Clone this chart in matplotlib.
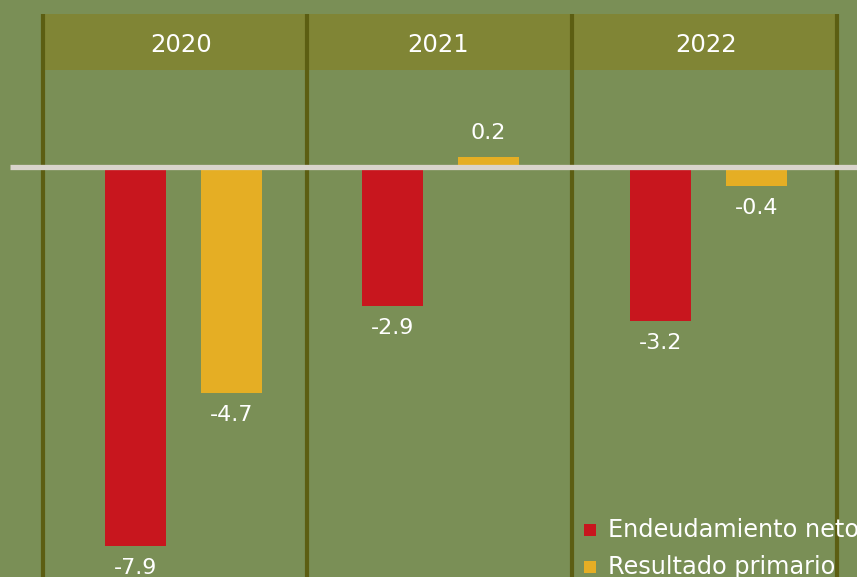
import matplotlib.pyplot as plt
from matplotlib.patches import Rectangle

years = ['2020', '2021', '2022']
endeudamiento = [-7.9, -2.9, -3.2]
resultado = [-4.7, 0.2, -0.4]
series_names = ['Endeudamiento neto', 'Resultado primario']
colors = ['#c8161e', '#e5ae24']

W, H = 857, 577
zero_px = 167      # pixel row of the zero line
px_per_unit = 48.0

bg = '#7a8f56'
band = '#808535'
divider = '#5c5e12'

fig = plt.figure(figsize=(W / 100, H / 100), dpi=100, facecolor=bg)
ax = fig.add_axes([0, 0, 1, 1])
ax.set_facecolor(bg)
ax.set_xlim(0, W)
ax.set_ylim(-(H - zero_px) / px_per_unit, zero_px / px_per_unit)
ax.axis('off')

def yfrac(p):
    return 1 - p / H

# header band and column dividers
ax.add_patch(Rectangle((42, yfrac(70)), 796, 56 / H, transform=ax.get_xaxis_transform(),
                       facecolor=band, edgecolor='none', zorder=1))
for xd in [43, 307, 572, 837]:
    ax.plot([xd, xd], [yfrac(14), 0], transform=ax.get_xaxis_transform(),
            color=divider, lw=3, zorder=2, solid_capstyle='butt')

centers = [183.5, 440.5, 708.5]
off = 48
bw = 61
for i, yr in enumerate(years):
    ax.text(centers[i] - 2, yfrac(45), yr, transform=ax.get_xaxis_transform(),
            ha='center', va='center', color='white', fontsize=17.5)

for k, vals in enumerate([endeudamiento, resultado]):
    xs = [c + (off if k else -off) for c in centers]
    bars = ax.bar(xs, vals, width=bw, color=colors[k], zorder=3)
    for x, v in zip(xs, vals):
        dy = 24 if v > 0 else -22
        ax.annotate(f'{v:.1f}', (x, v), xytext=(0, dy * 0.72), textcoords='offset points',
                    ha='center', va='center', color='white', fontsize=16)

# zero line
ax.plot([10, W], [0, 0], color='#d9d4cc', lw=3.8, zorder=4, solid_capstyle='butt')

# legend
for k, name in enumerate(series_names):
    yc = 530 + 37 * k
    ax.add_patch(Rectangle((584, yfrac(yc + 6)), 12, 12 / H, transform=ax.get_xaxis_transform(),
                           facecolor=colors[k], edgecolor='none', zorder=5))
    ax.text(608, yfrac(yc), name, transform=ax.get_xaxis_transform(),
            ha='left', va='center', color='white', fontsize=17.3, zorder=5)

fig.savefig('out.png', dpi=100, facecolor=bg)
